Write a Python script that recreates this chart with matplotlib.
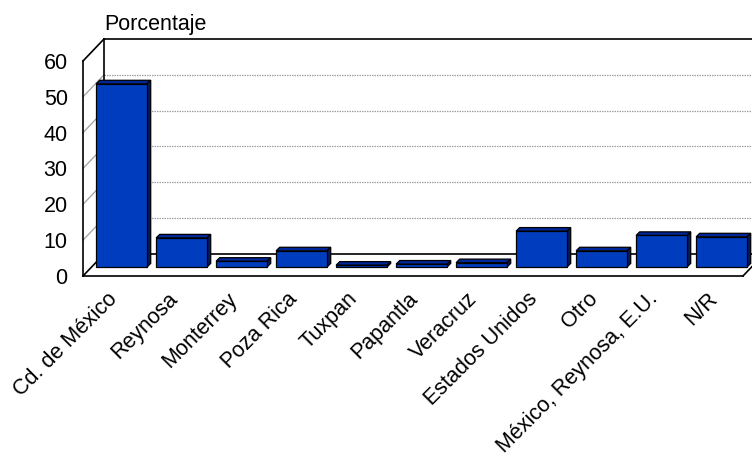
import numpy as np
import matplotlib
matplotlib.use("Agg")
import matplotlib.pyplot as plt
from matplotlib.patches import Polygon
from matplotlib.transforms import ScaledTranslation

plt.rcParams['font.family'] = ['Liberation Sans', 'DejaVu Sans']

# Lugar de residencia (porcentaje)
categorias = ['Cd. de México', 'Reynosa', 'Monterrey', 'Poza Rica', 'Tuxpan',
              'Papantla', 'Veracruz', 'Estados Unidos', 'Otro',
              'México, Reynosa, E.U.', 'N/R']
porcentaje = [51.1, 8.1, 1.6, 4.5, 0.5, 0.8, 1.2, 10.0, 4.5, 8.8, 8.4]
yticks = [0, 10, 20, 30, 40, 50, 60]

fig = plt.figure(figsize=(7.52, 4.55), dpi=100)
ax = fig.add_axes([83 / 752, 179 / 455, 660 / 752, 215 / 455])
ax.set_xlim(-0.5, 10.5)
ax.set_ylim(0, 60)
for s in ax.spines.values():
    s.set_visible(False)
ax.patch.set_visible(False)

# oblique depth of the chart box (in data units)
DX, DY = 0.35, 6.14
x0, x1 = -0.5, 10.5
ymax = yticks[-1]

line = dict(color='black', lw=1.2, clip_on=False, zorder=2)
grid = dict(color='#a0a0a0', lw=0.9, clip_on=False, zorder=1)

# back wall gridlines and left wall diagonals
for v in yticks[1:-1]:
    ax.plot([x0 + DX, x1 + DX], [v + DY, v + DY], ls=(0, (1.2, 0.8)), **grid)
    ax.plot([x0, x0 + DX], [v, v + DY], **grid)

# box edges
ax.plot([x0 + DX, x1 + DX], [ymax + DY, ymax + DY], **line)
ax.plot([x0 + DX, x0 + DX], [DY, ymax + DY], **line)
ax.plot([x0, x0], [0, ymax], **line)
ax.plot([x0, x0 + DX], [ymax, ymax + DY], **line)
ax.plot([x0 + DX, x1 + DX], [DY, DY], **line)
ax.plot([x0, x1], [0, 0], **line)
ax.plot([x0, x0 + DX], [0, DY], **line)
ax.plot([x1, x1 + DX], [0, DY], **line)

# 3D bars
f = 0.41          # depth position of bar front face
bw = 0.85         # bar width
bdx, bdy = 0.06, 1.0
front_c, top_c, side_c = '#003DBE', '#00279A', '#001A66'
for i, v in enumerate(porcentaje):
    xl = i - bw / 2 + f * DX
    xr = xl + bw
    yb = f * DY
    yt = yb + v
    kw = dict(ec='black', lw=0.9, clip_on=False, zorder=3, joinstyle='miter')
    ax.add_patch(Polygon([(xl, yt), (xr, yt), (xr + bdx, yt + bdy), (xl + bdx, yt + bdy)],
                         fc=top_c, **kw))
    ax.add_patch(Polygon([(xr, yb), (xr + bdx, yb + bdy), (xr + bdx, yt + bdy), (xr, yt)],
                         fc=side_c, **kw))
    ax.add_patch(Polygon([(xl, yb), (xr, yb), (xr, yt), (xl, yt)], fc=front_c, **kw))

fs = 15.5
ax.set_yticks(yticks)
ax.set_yticklabels([str(t) for t in yticks], fontsize=fs)
ax.set_xticks(range(len(categorias)))
ax.set_xticklabels(categorias, fontsize=fs, rotation=45, ha='right',
                   rotation_mode='anchor')
ax.tick_params(axis='y', length=0, pad=11)
ax.tick_params(axis='x', length=0, pad=9)
shift = ScaledTranslation(-6 / 100, 0, fig.dpi_scale_trans)
for lab in ax.get_xticklabels():
    lab.set_transform(lab.get_transform() + shift)

ax.text(x0 + DX, ymax + DY + 2.5, 'Porcentaje', fontsize=fs, ha='left',
        va='baseline')

fig.savefig('out.png', dpi=100)
